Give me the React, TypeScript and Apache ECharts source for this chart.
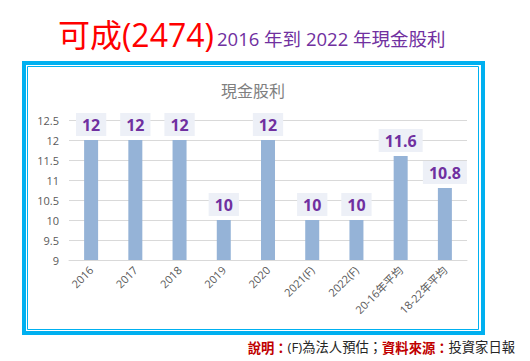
import React, { useEffect, useRef } from "react";
import * as echarts from "echarts";

const categories = ["2016", "2017", "2018", "2019", "2020", "2021(F)", "2022(F)", "20-16年平均", "18-22年平均"];
const dividends = [12, 12, 12, 10, 12, 10, 10, 11.6, 10.8];
const yMin = 9;
const yMax = 12.5;
const yStep = 0.5;

const headRed = "可成(2474)";
const headPurple = "2016 年到 2022 年現金股利";
const chartTitle = "現金股利";

export default function App() {
  const ref = useRef<HTMLDivElement>(null);
  useEffect(() => {
    if (!ref.current) return;
    const chart = echarts.init(ref.current, null, { renderer: "svg" });
    const font = "'Open Sans', 'Noto Sans CJK TC', sans-serif";
    chart.setOption({
      animation: false,
      backgroundColor: "#ffffff",
      textStyle: { fontFamily: font },
      grid: { left: 69, right: 63, top: 120, bottom: 101 },
      xAxis: {
        type: "category",
        data: categories,
        axisLine: { lineStyle: { color: "#D9D9D9", width: 1 } },
        axisTick: { show: false },
        axisLabel: { rotate: 45, color: "#595959", fontSize: 11, margin: 8, interval: 0, fontFamily: font },
      },
      yAxis: {
        type: "value",
        min: yMin,
        max: yMax,
        interval: yStep,
        axisLine: { show: false },
        axisTick: { show: false },
        splitLine: { lineStyle: { color: "#D9D9D9", width: 1 } },
        axisLabel: { color: "#595959", fontSize: 11, margin: 10, fontFamily: font },
      },
      series: [
        {
          type: "bar",
          data: dividends,
          barWidth: 14,
          itemStyle: { color: "#95B3D7" },
          label: {
            show: true,
            position: "top",
            distance: 4,
            color: "#7030A0",
            fontSize: 16,
            fontWeight: "bold",
            fontFamily: font,
            backgroundColor: "#EDF0F7",
            padding: [4, 6, 3, 6],
          },
        },
      ],
      graphic: [
        {
          type: "rect",
          shape: { x: 24, y: 63, width: 459, height: 270 },
          style: { fill: "none", stroke: "#00B0F0", lineWidth: 4 },
          z: 10,
        },
        {
          type: "rect",
          shape: { x: 27.5, y: 66.5, width: 451, height: 263 },
          style: { fill: "none", stroke: "#00B0F0", lineWidth: 1 },
          z: 10,
        },
        {
          type: "text",
          x: 253,
          y: 90,
          style: {
            text: chartTitle,
            fill: "#7F7F7F",
            font: "16px 'Noto Sans CJK TC', sans-serif",
            textAlign: "center",
            textVerticalAlign: "middle",
          },
        },
        {
          type: "text",
          x: 214,
          y: 34,
          style: {
            text: headRed,
            fill: "#FF0000",
            font: "32px 'Open Sans', 'Noto Sans CJK TC', sans-serif",
            textAlign: "right",
            textVerticalAlign: "middle",
          },
        },
        {
          type: "text",
          x: 217,
          y: 38.5,
          style: {
            text: headPurple,
            fill: "#7030A0",
            font: "18.5px 'Open Sans', 'Noto Sans CJK TC', sans-serif",
            textAlign: "left",
            textVerticalAlign: "middle",
          },
        },
        {
          type: "text",
          x: 515,
          y: 347,
          style: {
            text: "{r|說明：}{n|(F)為法人預估；}{r|資料來源：}{n|投資家日報}",
            textAlign: "right",
            textVerticalAlign: "middle",
            rich: {
              r: { fill: "#C00000", fontWeight: "bold", fontSize: 13.3, fontFamily: "'Noto Sans CJK TC', sans-serif" },
              n: { fill: "#262626", fontSize: 13.3, fontFamily: "'Open Sans', 'Noto Sans CJK TC', sans-serif" },
            },
          },
        },
      ],
    });
    return () => chart.dispose();
  }, []);
  return <div ref={ref} style={{ position: "fixed", left: 0, top: 0, width: 530, height: 361 }} />;
}
